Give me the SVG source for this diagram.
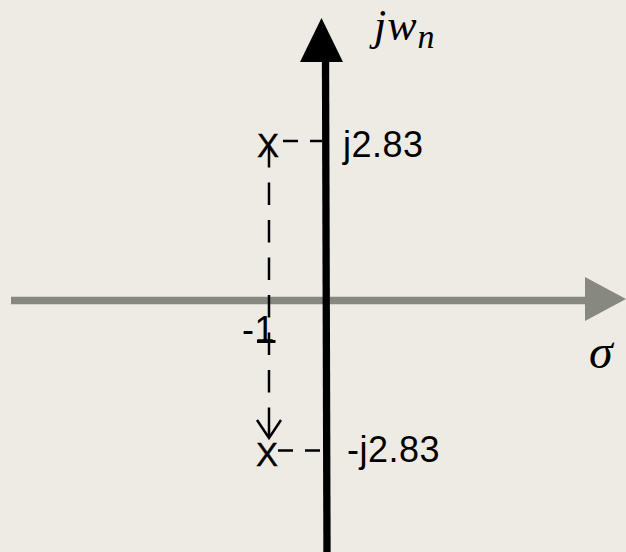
<svg xmlns="http://www.w3.org/2000/svg" width="626" height="552" viewBox="0 0 626 552">
  <style>
    .lbl { font-family: "Liberation Sans", Arial, sans-serif; font-size: 36px; fill: #000; letter-spacing: 0.5px; }
    .pole { font-family: "Liberation Sans", Arial, sans-serif; font-size: 33px; fill: #000; text-anchor: middle; stroke: #000; stroke-width: 0.4; }
    .math { font-family: "Liberation Serif", "Times New Roman", serif; font-style: italic; fill: #000; }
    .dash { fill: none; stroke: #000; stroke-width: 2.5; }
  </style>
  <rect width="626" height="552" fill="#EEEBE4"/>

  <g id="real-axis">
    <line x1="11" y1="300.5" x2="588" y2="300.5" stroke="#878880" stroke-width="7.3"/>
    <polygon points="585,277 585,321 626,299" fill="#878880"/>
    <text class="math" x="589" y="368" font-size="48">σ</text>
  </g>

  <g id="imag-axis">
    <line x1="325.5" y1="58" x2="327" y2="552" stroke="#000" stroke-width="7.3"/>
    <polygon points="300,62 343,62 321.5,18" fill="#000"/>
    <text class="math" x="374" y="40" font-size="44" letter-spacing="1">jw<tspan font-size="34" dy="8">n</tspan></text>
  </g>

  <g id="connectors">
    <line class="dash" x1="283" y1="141" x2="322" y2="141" stroke-dasharray="15 12" stroke-width="2"/>
    <line class="dash" x1="278" y1="450.5" x2="320" y2="450.5" stroke-dasharray="15 12" stroke-width="2"/>
    <line class="dash" x1="269" y1="145" x2="269" y2="400" stroke-dasharray="22.5 15"/>
    <line class="dash" x1="269" y1="407.5" x2="269" y2="436"/>
    <polyline class="dash" points="257,420 269,438 281,420" stroke-width="4"/>
  </g>

  <g id="pole-upper">
    <text class="pole" x="268" y="157">X</text>
    <text class="lbl" x="343" y="157">j2.83</text>
  </g>

  <g id="pole-lower">
    <text class="pole" x="267" y="466">X</text>
    <text class="lbl" x="347" y="462">-j2.83</text>
  </g>

  <g id="tick-minus-one">
    <line x1="257" y1="341.5" x2="275.5" y2="341.5" stroke="#000" stroke-width="3"/>
    <text class="lbl" x="242" y="342" letter-spacing="0">-1</text>
  </g>
</svg>
